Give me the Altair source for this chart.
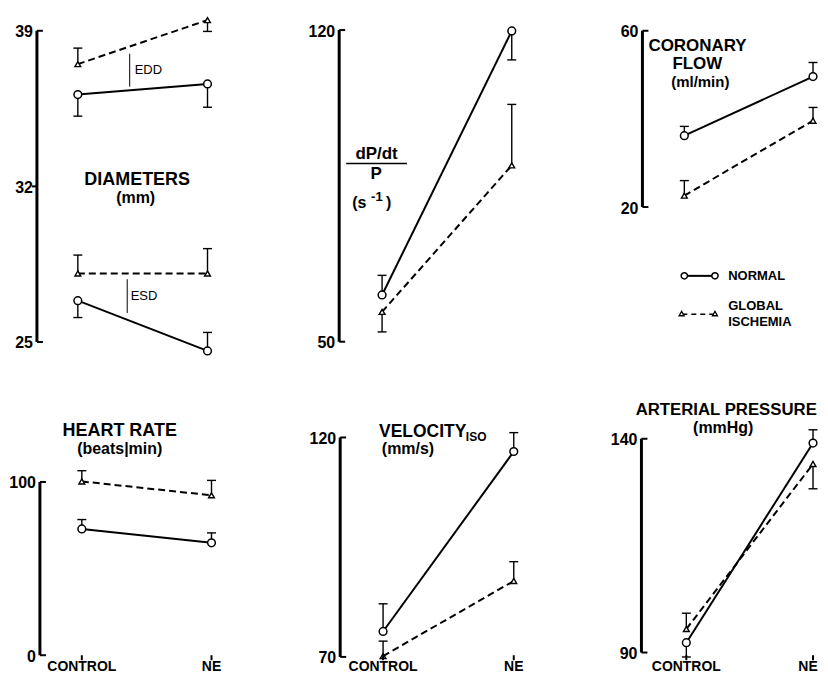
import altair as alt
import pandas as pd

FONT = "Liberation Sans"

conditions = ["CONTROL", "NE"]

# ---- data (mean, end of error bar) ----
# Diameters (mm)
edd_normal = [36.13, 36.61]; edd_normal_err = [35.16, 35.56]
edd_isch = [37.50, 39.48];   edd_isch_err = [38.22, 38.97]
esd_normal = [26.86, 24.60]; esd_normal_err = [26.10, 25.43]
esd_isch = [28.08, 28.08];   esd_isch_err = [28.91, 29.20]
# dP/dt / P (s-1)
dpdt_normal = [60.5, 119.8]; dpdt_normal_err = [64.9, 113.3]
dpdt_isch = [56.7, 89.6];    dpdt_isch_err = [52.2, 103.3]
# Coronary flow (ml/min)
cf_normal = [36.2, 49.6];    cf_normal_err = [38.3, 52.8]
cf_isch = [22.6, 39.6];      cf_isch_err = [26.0, 42.6]
# Heart rate (beats/min)
hr_normal = [72.9, 64.9];    hr_normal_err = [78.3, 70.6]
hr_isch = [100.3, 92.3];     hr_isch_err = [106.5, 100.9]
# Velocity iso (mm/s)
vel_normal = [75.8, 116.8];  vel_normal_err = [82.1, 121.1]
vel_isch = [70.2, 87.3];     vel_isch_err = [73.6, 91.7]
# Arterial pressure (mmHg)
ap_normal = [92.3, 139.0];   ap_normal_err = [88.96, 142.1]
ap_isch = [95.5, 134.1];     ap_isch_err = [99.2, 128.3]

# axis tick values / labels
diam_ticks = [25, 39]
diam_mid_ticks = [32]
dpdt_ticks = [50, 120]
cf_ticks = [20, 60]
hr_ticks = [0, 100]
vel_ticks = [70, 120]
ap_ticks = [90, 140]


def one():
    return pd.DataFrame({"a": [0]})


def text_layer(t, x, y, L, T, size=18, weight="bold", align="center"):
    return alt.Chart(one()).mark_text(
        text=t, align=align, baseline="middle", font=FONT,
        fontSize=size, fontWeight=weight, color="black"
    ).encode(x=alt.value(x - L), y=alt.value(y - T))


def seg_layer(x1, y1, x2, y2, L, T, w=1.2, dash=None):
    kw = dict(color="black", strokeWidth=w)
    if dash:
        kw["strokeDash"] = dash
    return alt.Chart(one()).mark_rule(**kw).encode(
        x=alt.value(x1 - L), x2=alt.value(x2 - L),
        y=alt.value(y1 - T), y2=alt.value(y2 - T))


def make_panel(W, H, L, T, ax_img, xc_img, xn_img, vt, yt_img, vb, yb_img,
               series, ticks, mid_ticks, annots, xlabels=False, ne_dx=0):
    ax = ax_img - L
    pc, pn = xc_img - L, xn_img - L
    pt, pb = yt_img - T, yb_img - T
    kx = 1.0 / (pn - pc)
    xs = alt.Scale(domain=[-pc * kx, (W - pc) * kx], nice=False, zero=False)
    ky = (vt - vb) / (pb - pt)
    ys = alt.Scale(domain=[vb - (H - pb) * ky, vt + pt * ky], nice=False, zero=False)

    def X(f):
        return alt.X(f, type="quantitative", scale=xs, axis=None)

    def Y(f):
        return alt.Y(f, type="quantitative", scale=ys, axis=None)

    rows = []
    for sid, (vals, errs, grp) in enumerate(series):
        for i in range(2):
            rows.append(dict(sid=sid, grp=grp, xi=i, mean=vals[i], err=errs[i]))
    df = pd.DataFrame(rows)
    dn = df[df.grp == "N"]
    di = df[df.grp == "I"]

    layers = []
    # y axis
    adf = pd.DataFrame({"lo": [min(ticks)], "hi": [max(ticks)]})
    layers.append(alt.Chart(adf).mark_rule(color="black", strokeWidth=3).encode(
        x=alt.value(ax), y=Y("lo"), y2="hi"))
    tdf = pd.DataFrame({"v": ticks, "lab": [str(t) for t in ticks]})
    layers.append(alt.Chart(tdf).mark_rule(color="black", strokeWidth=2).encode(
        x=alt.value(ax), x2=alt.value(ax + 6), y=Y("v")))
    if mid_ticks:
        mdf = pd.DataFrame({"v": mid_ticks, "lab": [str(t) for t in mid_ticks]})
        layers.append(alt.Chart(mdf).mark_rule(color="black", strokeWidth=2).encode(
            x=alt.value(ax - 5), x2=alt.value(ax), y=Y("v")))
        tdf = pd.concat([tdf, mdf])
    layers.append(alt.Chart(tdf).mark_text(
        align="right", baseline="middle", font=FONT, fontSize=16,
        fontWeight="bold", color="black", dy=1.5).encode(
        x=alt.value(ax - 4), y=Y("v"), text="lab:N"))

    # error bars
    layers.append(alt.Chart(df).mark_rule(color="black", strokeWidth=1.4).encode(
        x=X("xi"), y=Y("mean"), y2="err"))
    layers.append(alt.Chart(df).mark_rule(color="black", strokeWidth=1.4,
                                          xOffset=-4.5, x2Offset=4.5).encode(
        x=X("xi"), x2="xi", y=Y("err")))
    # lines
    layers.append(alt.Chart(dn).mark_line(color="black", strokeWidth=2).encode(
        x=X("xi"), y=Y("mean"), detail="sid:N"))
    layers.append(alt.Chart(di).mark_line(color="black", strokeWidth=2,
                                          strokeDash=[7, 4]).encode(
        x=X("xi"), y=Y("mean"), detail="sid:N"))
    # markers
    layers.append(alt.Chart(dn).mark_point(shape="circle", filled=True, fill="white",
                                           stroke="black", strokeWidth=1.5, size=60,
                                           opacity=1).encode(x=X("xi"), y=Y("mean")))
    layers.append(alt.Chart(di).mark_point(shape="triangle-up", filled=True, fill="white",
                                           stroke="black", strokeWidth=1.4, size=34,
                                           opacity=1).encode(x=X("xi"), y=Y("mean")))

    if xlabels:
        xdf = pd.DataFrame({"xi": [0, 1], "lab": conditions})
        layers.append(alt.Chart(xdf).mark_rule(color="black", strokeWidth=2).encode(
            x=X("xi"), y=alt.value(656 - T), y2=alt.value(661 - T)))
        layers.append(alt.Chart(xdf[xdf.xi == 0]).mark_text(
            align="center", baseline="middle", font=FONT, fontSize=14,
            fontWeight="bold", color="black").encode(
            x=X("xi"), y=alt.value(668 - T), text="lab:N"))
        layers.append(alt.Chart(xdf[xdf.xi == 1]).mark_text(
            align="center", baseline="middle", font=FONT, fontSize=14,
            fontWeight="bold", color="black", dx=ne_dx).encode(
            x=X("xi"), y=alt.value(668 - T), text="lab:N"))

    for a in annots:
        layers.append(a(L, T))

    return alt.layer(*layers).properties(width=W, height=H)


Ls = [8, 311, 614]
Ws = [303, 303, 206]
Ts = [8, 358]
Hs = [350, 316]

# ---- Diameters ----
p00 = make_panel(
    Ws[0], Hs[0], Ls[0], Ts[0], 37, 78, 208, 39, 30, 25, 342,
    [(edd_normal, edd_normal_err, "N"), (edd_isch, edd_isch_err, "I"),
     (esd_normal, esd_normal_err, "N"), (esd_isch, esd_isch_err, "I")],
    diam_ticks, diam_mid_ticks,
    [lambda L, T: text_layer("DIAMETERS", 137.5, 179.5, L, T, 18),
     lambda L, T: text_layer("(mm)", 136, 198, L, T, 16),
     lambda L, T: seg_layer(130, 53, 130, 86, L, T, 1),
     lambda L, T: text_layer("EDD", 135, 69, L, T, 13, "normal", "left"),
     lambda L, T: seg_layer(127.5, 279, 127.5, 313, L, T, 1),
     lambda L, T: text_layer("ESD", 131, 296, L, T, 13, "normal", "left")])

# ---- dP/dt / P ----
p01 = make_panel(
    Ws[1], Hs[0], Ls[1], Ts[0], 340, 383, 513, 120, 29.3, 50, 341.7,
    [(dpdt_normal, dpdt_normal_err, "N"), (dpdt_isch, dpdt_isch_err, "I")],
    dpdt_ticks, [],
    [lambda L, T: text_layer("dP/dt", 377.5, 154, L, T, 17),
     lambda L, T: seg_layer(347, 163, 408, 163, L, T, 1.5),
     lambda L, T: text_layer("P", 377, 174, L, T, 17),
     lambda L, T: text_layer("(s", 353, 203, L, T, 16, "bold", "left"),
     lambda L, T: text_layer("-1", 372, 197, L, T, 13, "bold", "left"),
     lambda L, T: text_layer(")", 387, 203, L, T, 16, "bold", "left")])

# ---- Coronary flow ----
p02 = make_panel(
    Ws[2], Hs[0], Ls[2], Ts[0], 644, 686, 815, 60, 30, 20, 206.7,
    [(cf_normal, cf_normal_err, "N"), (cf_isch, cf_isch_err, "I")],
    cf_ticks, [],
    [lambda L, T: text_layer("CORONARY", 650, 45.5, L, T, 17, "bold", "left"),
     lambda L, T: text_layer("FLOW", 699, 63.5, L, T, 17),
     lambda L, T: text_layer("(ml/min)", 702, 81.5, L, T, 15),
     # legend
     lambda L, T: seg_layer(686, 275.7, 716.7, 275.7, L, T, 2),
     lambda L, T: alt.Chart(pd.DataFrame({"px": [686 - L, 716.7 - L]})).mark_point(
         shape="circle", filled=True, fill="white", stroke="black", strokeWidth=1.5,
         size=40, opacity=1).encode(x=alt.X("px:Q", scale=None), y=alt.value(275.7 - T)),
     lambda L, T: text_layer("NORMAL", 730, 276, L, T, 13, "bold", "left"),
     lambda L, T: seg_layer(684, 314.3, 716.7, 314.3, L, T, 1.5, [5, 4]),
     lambda L, T: alt.Chart(pd.DataFrame({"px": [683.3 - L, 716.7 - L]})).mark_point(
         shape="triangle-up", filled=True, fill="white", stroke="black", strokeWidth=1.3,
         size=25, opacity=1).encode(x=alt.X("px:Q", scale=None), y=alt.value(313.5 - T)),
     lambda L, T: text_layer("GLOBAL", 730, 306, L, T, 13, "bold", "left"),
     lambda L, T: text_layer("ISCHEMIA", 730, 321.5, L, T, 13, "bold", "left")])

# ---- Heart rate ----
p10 = make_panel(
    Ws[0], Hs[1], Ls[0], Ts[1], 40, 82, 212, 100, 482.3, 0, 656,
    [(hr_normal, hr_normal_err, "N"), (hr_isch, hr_isch_err, "I")],
    hr_ticks, [],
    [lambda L, T: text_layer("HEART RATE", 120, 431, L, T, 18),
     lambda L, T: text_layer("(beats|min)", 120, 449, L, T, 16)],
    xlabels=True)

# ---- Velocity ----
p11 = make_panel(
    Ws[1], Hs[1], Ls[1], Ts[1], 341, 384, 515, 120, 437.7, 70, 657.7,
    [(vel_normal, vel_normal_err, "N"), (vel_isch, vel_isch_err, "I")],
    vel_ticks, [],
    [lambda L, T: text_layer("VELOCITY", 380, 432, L, T, 17.5, "bold", "left"),
     lambda L, T: text_layer("ISO", 467, 437.5, L, T, 12, "bold", "left"),
     lambda L, T: text_layer("(mm/s)", 409, 449, L, T, 16)],
    xlabels=True)

# ---- Arterial pressure ----
p12 = make_panel(
    Ws[2], Hs[1], Ls[2], Ts[1], 643, 688, 815, 140, 439, 90, 653.3,
    [(ap_normal, ap_normal_err, "N"), (ap_isch, ap_isch_err, "I")],
    ap_ticks, [],
    [lambda L, T: text_layer("ARTERIAL PRESSURE", 728, 410, L, T, 16.8),
     lambda L, T: text_layer("(mmHg)", 725, 428, L, T, 16)],
    xlabels=True, ne_dx=-5)

chart = alt.concat(p00, p01, p02, p10, p11, p12, columns=3, spacing=0,
                   bounds="flush", align="each").properties(
    padding=0, background="white").configure_view(strokeWidth=0)

chart.save("out.html", embed_options={"renderer": "svg", "actions": False})
